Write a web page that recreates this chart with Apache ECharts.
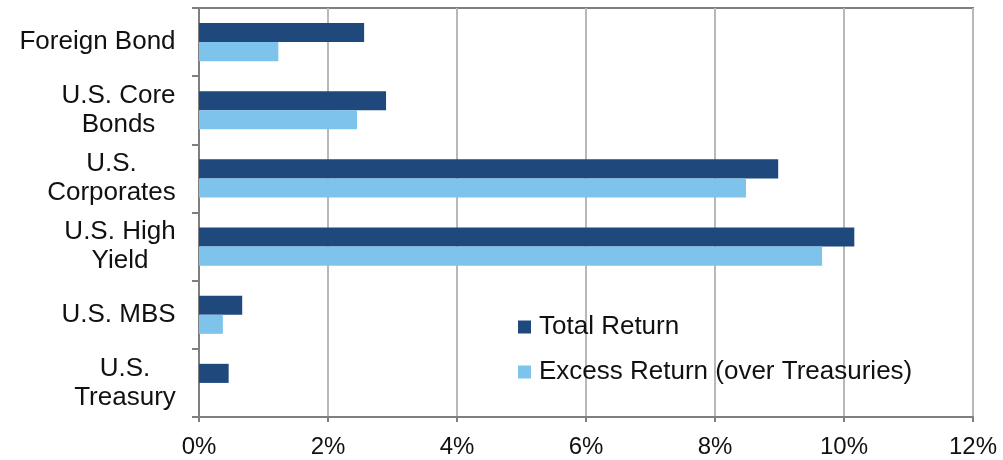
<!DOCTYPE html>
<html>
<head>
<meta charset="utf-8">
<script src="https://cdn.jsdelivr.net/npm/echarts@6/dist/echarts.min.js"></script>
<style>html,body{margin:0;padding:0;background:#fff;}#c{width:1003px;height:460px;}</style>
</head>
<body>
<div id="c"></div>
<script>
const categories = ["Foreign Bond", "U.S. Core\nBonds", "U.S.\nCorporates", "U.S. High\nYield", "U.S. MBS", "U.S.\nTreasury"];
const totalReturn = [2.56, 2.9, 8.98, 10.16, 0.67, 0.46];
const excessReturn = [1.23, 2.45, 8.48, 9.66, 0.37, 0];
const seriesNames = ["Total Return", "Excess Return (over Treasuries)"];
const xTicks = { min: 0, max: 12, interval: 2 };

const font = 'Liberation Sans, Arial, sans-serif';
const labelSize = 26;
const ctx = document.createElement('canvas').getContext('2d');
ctx.font = labelSize + 'px ' + font;
const rich = {};
categories.forEach((c, i) => {
  const w = Math.max(...c.split('\n').map(l => ctx.measureText(l).width));
  rich['l' + i] = { width: Math.ceil(w), align: 'center', fontSize: labelSize, lineHeight: 29, color: '#111', fontFamily: font };
});

const chart = echarts.init(document.getElementById('c'), null, { renderer: 'canvas' });
chart.setOption({
  animation: false,
  backgroundColor: '#ffffff',
  textStyle: { fontFamily: font },
  grid: { left: 199, right: 30, top: 8, bottom: 43, show: true, borderColor: '#7f7f7f', borderWidth: 2, containLabel: false },
  legend: {
    orient: 'vertical', left: 513, top: 309, itemWidth: 13, itemHeight: 13, itemGap: 19,
    icon: 'rect',
    textStyle: { fontSize: 26, color: '#111', fontFamily: font, padding: [0, 0, 0, 3] },
    data: seriesNames
  },
  xAxis: {
    type: 'value', min: xTicks.min, max: xTicks.max, interval: xTicks.interval,
    axisLabel: { formatter: '{value}%', fontSize: 24, color: '#111', margin: 18, fontFamily: font },
    axisLine: { show: true, lineStyle: { color: '#7f7f7f', width: 2 } },
    axisTick: { show: true, length: 5, lineStyle: { color: '#7f7f7f', width: 2 } },
    splitLine: { show: true, lineStyle: { color: '#b8b8b8', width: 2 } }
  },
  yAxis: {
    type: 'category', inverse: true, data: categories,
    axisLabel: {
      margin: 23, align: 'right', fontSize: labelSize, lineHeight: 29, color: '#111', fontFamily: font,
      formatter: (val, idx) => val.split('\n').map(l => '{l' + idx + '|' + l + '}').join('\n'),
      rich: rich
    },
    axisLine: { show: true, lineStyle: { color: '#7f7f7f', width: 2 } },
    axisTick: { show: true, length: 7, lineStyle: { color: '#7f7f7f', width: 2 } },
    splitLine: { show: false }
  },
  series: [
    { name: seriesNames[0], type: 'bar', data: totalReturn, barGap: '0%', barCategoryGap: '44%', itemStyle: { color: '#1f497d' } },
    { name: seriesNames[1], type: 'bar', data: excessReturn, barGap: '0%', barCategoryGap: '44%', itemStyle: { color: '#7dc3eb' } }
  ]
});
</script>
</body>
</html>
